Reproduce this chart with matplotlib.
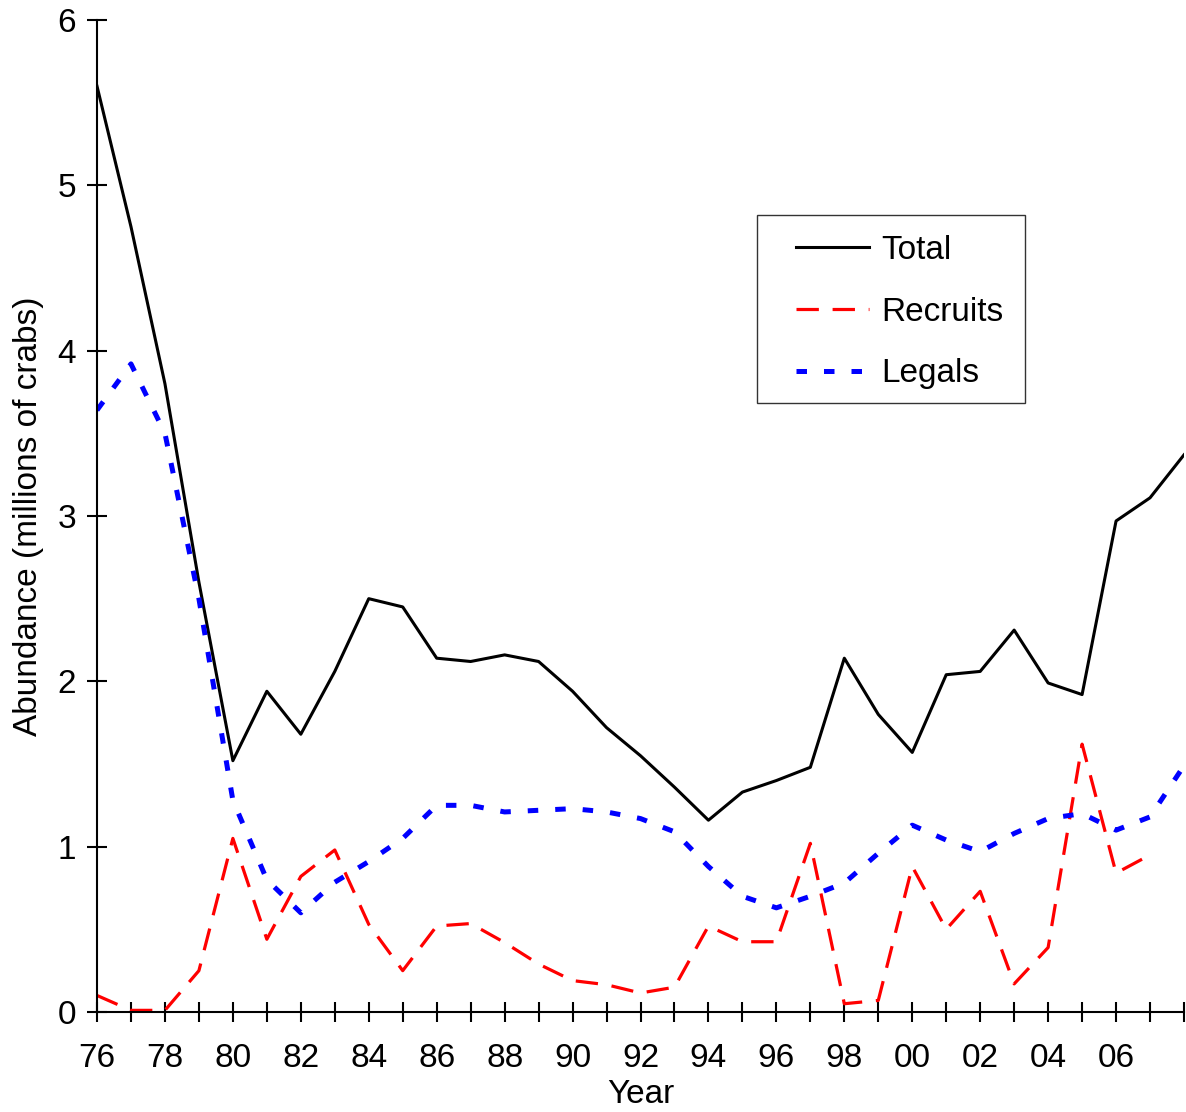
import numpy as np
import matplotlib
matplotlib.use("Agg")
from matplotlib import pyplot as plt

plt.rcParams['font.family'] = ['Liberation Sans', 'DejaVu Sans']

years = np.arange(1976, 2009)

total = [5.60, 4.75, 3.80, 2.60, 1.52, 1.94, 1.68, 2.06, 2.50, 2.45,
         2.14, 2.12, 2.16, 2.12, 1.94, 1.72, 1.55, 1.36, 1.16, 1.33,
         1.40, 1.48, 2.14, 1.80, 1.57, 2.04, 2.06, 2.31, 1.99, 1.92,
         2.97, 3.11, 3.37]

recruits = [0.10, 0.01, 0.01, 0.25, 1.05, 0.44, 0.82, 0.98, 0.53, 0.25,
            0.52, 0.535, 0.42, 0.29, 0.19, 0.165, 0.115, 0.15, 0.52, 0.425,
            0.425, 1.02, 0.05, 0.07, 0.88, 0.50, 0.73, 0.17, 0.39, 1.62,
            0.84, 0.95, np.nan]

legals = [3.64, 3.92, 3.50, 2.50, 1.28, 0.80, 0.60, 0.785, 0.91, 1.05,
          1.25, 1.25, 1.21, 1.22, 1.23, 1.21, 1.17, 1.09, 0.88, 0.70,
          0.63, 0.70, 0.78, 0.96, 1.13, 1.04, 0.97, 1.08, 1.17, 1.20,
          1.10, 1.18, 1.49]

tick_labels = ["%02d" % (y % 100) if (y % 2 == 0 and y < 2008) else "" for y in years]

W, H = 1186, 1112
fig = plt.figure(figsize=(W / 100, H / 100), dpi=100)
ax = fig.add_axes([97/W, 1 - 1012/H, 1087/W, 992/H])

ax.plot(years, total, color='black', lw=2.2, label='Total')
ax.plot(years, recruits, color='red', lw=2.3, ls=(0, (7, 4.3)), label='Recruits')
ax.plot(years, legals, color='blue', lw=3.6, ls=(0, (2.1, 3.4)), label='Legals')

ax.set_xlim(1976, 2008)
ax.set_ylim(0, 6)
ax.set_xticks(years)
ax.set_xticklabels(tick_labels)
ax.set_yticks(range(7))

for side in ['top', 'right']:
    ax.spines[side].set_visible(False)
for side in ['left', 'bottom']:
    ax.spines[side].set_linewidth(1.5)

ax.tick_params(axis='both', direction='inout', length=14, width=1.5,
               labelsize=24)
ax.tick_params(axis='x', pad=15)
ax.tick_params(axis='y', pad=8)

ax.set_xlabel('Year', fontsize=24, labelpad=4)
ax.set_ylabel('Abundance (millions of crabs)', fontsize=24, labelpad=10)

# legend entries without frame; the box is drawn separately
leg = ax.legend(loc='upper left', bbox_to_anchor=(796/W, 1 - 235/H),
                bbox_transform=fig.transFigure,
                fontsize=24, frameon=False, handlelength=2.2,
                handletextpad=0.36, labelspacing=0.92, borderpad=0,
                borderaxespad=0)

box = plt.Rectangle((757/W, 1 - 403/H), 268/W, 188/H, transform=fig.transFigure,
                    facecolor='none', edgecolor='#333333', lw=1.0)
fig.patches.append(box)

fig.savefig('out.png', dpi=100)
